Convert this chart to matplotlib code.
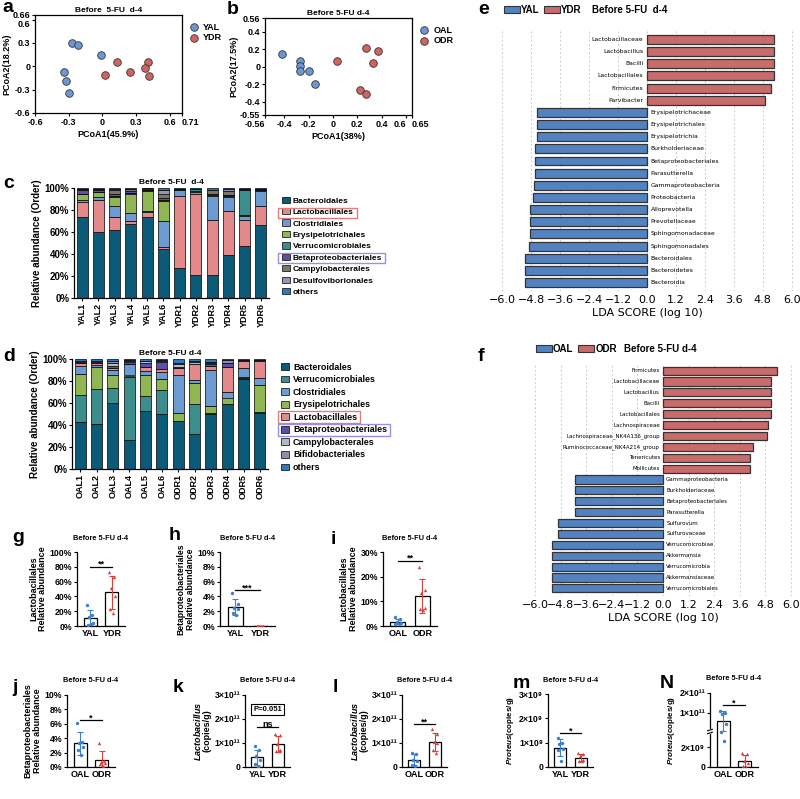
import numpy as np
import matplotlib
matplotlib.use('Agg')
import matplotlib.pyplot as plt
from matplotlib.patches import Patch, Rectangle

plt.rcParams['font.family'] = ['Liberation Sans', 'DejaVu Sans']
plt.rcParams['font.weight'] = 'bold'
plt.rcParams['axes.labelweight'] = 'bold'
plt.rcParams['axes.titleweight'] = 'bold'
plt.rcParams['mathtext.fontset'] = 'custom'
plt.rcParams['mathtext.it'] = 'Liberation Sans:italic:bold'
plt.rcParams['mathtext.rm'] = 'Liberation Sans:bold'
plt.rcParams['mathtext.bf'] = 'Liberation Sans:bold'
plt.rcParams['axes.linewidth'] = 0.9

W, H = 800, 799

# ---- a / b : PCoA ----
a_yal_x = [-0.27, -0.22, -0.01, -0.34, -0.32, -0.30]
a_yal_y = [0.30, 0.28, 0.14, -0.07, -0.19, -0.34]
a_ydr_x = [0.13, 0.02, 0.25, 0.41, 0.38, 0.42]
a_ydr_y = [0.06, -0.11, -0.07, 0.06, -0.02, -0.12]

b_oal_x = [-0.42, -0.27, -0.27, -0.27, -0.20, -0.15]
b_oal_y = [0.15, 0.07, 0.01, -0.05, -0.05, -0.20]
b_odr_x = [0.03, 0.27, 0.37, 0.33, 0.22, 0.27]
b_odr_y = [0.07, 0.22, 0.18, 0.05, -0.26, -0.31]

# ---- c : order composition, young mice ----
c_samples = ['YAL1', 'YAL2', 'YAL3', 'YAL4', 'YAL5', 'YAL6',
             'YDR1', 'YDR2', 'YDR3', 'YDR4', 'YDR5', 'YDR6']
c_bacteroidales = [74, 60, 62, 67, 74, 45, 27, 20.5, 21, 39, 47.5, 66]
c_lactobacillales = [13, 29, 12, 3, 4, 1.5, 66, 74, 50, 40, 23, 17.5]
c_clostridiales = [2, 3, 10, 7, 1.5, 23.5, 5, 2, 22, 13, 4.5, 14]
c_erysipelotrichales = [6, 4, 8, 18, 18, 18, 0.5, 0.5, 0.5, 0.5, 0.5, 0.5]
c_verrucomicrobiales = [0, 0, 0.5, 0.5, 0.5, 1, 0.5, 2, 1, 1, 23, 0.5]
c_betaproteobacteriales = [3.5, 2, 2, 2, 0.5, 2, 0.5, 0, 0.5, 0.5, 0.5, 0.5]
c_campylobacterales = [0.5, 1, 4, 1.5, 1, 4, 0, 0.5, 3, 3, 0.5, 0.5]
c_desulfo = [0.5, 0.5, 1, 0.5, 0.5, 3, 0, 0, 0.5, 2, 0, 0]
c_others = [0.5, 0.5, 0.5, 0.5, 0, 2, 0.5, 0.5, 1.5, 1, 0.5, 0.5]

# ---- d : order composition, old mice ----
d_samples = ['OAL1', 'OAL2', 'OAL3', 'OAL4', 'OAL5', 'OAL6',
             'ODR1', 'ODR2', 'ODR3', 'ODR4', 'ODR5', 'ODR6']
d_bacteroidales = [42.5, 41, 60, 26, 52.5, 50, 43.5, 32, 50, 59, 82, 51]
d_verrucomicrobiales = [25, 31.5, 14, 57.5, 13.5, 22, 0.5, 27, 0.5, 0.5, 0.5, 0.5]
d_erysipelotrichales = [19, 20.5, 11, 1.5, 19.5, 10, 7, 19, 6.5, 5.5, 1, 24.5]
d_clostridiales = [7, 1.5, 5, 10, 4, 6, 34.5, 3, 33, 5, 8, 7]
d_lactobacillales = [2.5, 1.5, 1.5, 0.5, 3, 3, 6.5, 14, 4, 23, 6.5, 15]
d_betaproteobacteriales = [1, 1.5, 2.5, 2, 4, 6, 0.5, 0.5, 1, 3, 0.5, 0.5]
d_campylobacterales = [1, 0.5, 2, 1, 1.5, 1, 3, 1.5, 1.5, 0.5, 0.5, 0.5]
d_bifido = [0.5, 0.5, 2, 0.5, 0.5, 1, 0.5, 1, 0.5, 3, 0.5, 0.5]
d_others = [1.5, 1.5, 2, 1, 1.5, 1, 4, 2, 3, 0.5, 0.5, 0.5]

# ---- e / f : LEfSe ----
e_taxa = ['Lactobacillaceae', 'Lactobacillus', 'Bacilli', 'Lactobacillales', 'Firmicutes',
          'Parvibacter', 'Erysipelotrichaceae', 'Erysipelotrichales', 'Erysipelotrichia',
          'Burkholderiaceae', 'Betaproteobacteriales', 'Parasutterella', 'Gammaproteobacteria',
          'Proteobacteria', 'Alloprevotella', 'Prevotellaceae', 'Sphingomonadaceae',
          'Sphingomonadales', 'Bacteroidales', 'Bacteroidetes', 'Bacteroidia']
e_lda = [5.27, 5.27, 5.27, 5.27, 5.14, 4.90, -4.54, -4.54, -4.54, -4.65, -4.65, -4.65,
         -4.68, -4.72, -4.85, -4.85, -4.87, -4.90, -5.07, -5.07, -5.07]
f_taxa = ['Firmicutes', 'Lactobacillaceae', 'Lactobacillus', 'Bacilli', 'Lactobacillales',
          'Lachnospiraceae', 'Lachnospiraceae_NK4A136_group', 'Ruminococcaceae_NK4A214_group',
          'Tenericutes', 'Mollicutes', 'Gammaproteobacteria', 'Burkholderiaceae',
          'Betaproteobacteriales', 'Parasutterella', 'Sulfurovum', 'Sulfurovaceae',
          'Verrucomicrobiae', 'Akkermansia', 'Verrucomicrobia', 'Akkermansiaceae',
          'Verrucomicrobiales']
f_lda = [5.34, 5.10, 5.10, 5.10, 5.10, 4.95, 4.90, 4.22, 4.11, 4.11, -4.16, -4.16, -4.16,
         -4.16, -4.93, -4.93, -5.24, -5.24, -5.24, -5.24, -5.24]

# ---- g-N : group comparisons ----
g_yal = [29, 15, 12, 4, 2, 3]
g_ydr = [73, 66, 52, 40, 23, 18]
h_yal = [4.4, 3.0, 2.5, 2.3, 1.7, 1.5]
h_ydr = [0.05, 0.02, 0.03, 0.01, 0.04, 0.02]
i_oal = [3.5, 3.0, 1.6, 1.2, 0.8, 0.7]
i_odr = [23.9, 14.6, 13.4, 7.3, 6.9, 6.5]
j_oal = [6.1, 3.5, 3.3, 2.8, 2.3, 1.6]
j_odr = [3.35, 0.9, 0.7, 0.5, 0.4, 0.2]
k_yal = [0.86, 0.69, 0.44, 0.28, 0.14, 0.02]      # x1e11 copies/g
k_ydr = [1.38, 1.33, 0.95, 0.72, 0.68, 0.66]
l_oal = [0.58, 0.55, 0.30, 0.25, 0.08, 0.04]      # x1e11 copies/g
l_odr = [1.58, 1.36, 1.05, 1.02, 0.72, 0.60]
m_yal = [1.20, 1.00, 0.95, 0.72, 0.68, 0.25]      # x1e9 copies/g
m_ydr = [0.57, 0.53, 0.44, 0.30, 0.26, 0.23]
n_oal = [110, 100, 97, 45, 5, 2.6]                # x1e9 copies/g
n_odr = [1.4, 1.33, 0.57, 0.4, 0.07, 0.05]

PC_BLUE = '#6b98d2'
PC_RED = '#d06461'
DOT_BLUE = '#3d7fcc'
DOT_RED = '#d8403b'
LDA_RED = '#c96b6b'
LDA_BLUE = '#5282c0'

COL_C = {'Bacteroidales': '#0b5a78', 'Lactobacillales': '#e4898a', 'Clostridiales': '#6b9bd0',
         'Erysipelotrichales': '#8fb652', 'Verrucomicrobiales': '#3c8e8c',
         'Betaproteobacteriales': '#5b4fa8', 'Campylobacterales': '#7d7568',
         'Desulfoviborionales': '#9595b4', 'others': '#2a7bc2'}
COL_D = dict(COL_C)
COL_D['Campylobacterales'] = '#b1b9c1'
COL_D['Bifidobacteriales'] = '#8f8fa8'

fig = plt.figure(figsize=(W / 100, H / 100), dpi=100)


def px_axes(x0, y0, x1, y1):
    return fig.add_axes([x0 / W, 1 - y1 / H, (x1 - x0) / W, (y1 - y0) / H])


def pcoa(ax, x1, y1, x2, y2, names, xt, xtl, yt, ytl, xlabel, ylabel, title):
    ax.scatter(x1, y1, s=30, c=PC_BLUE, edgecolors='#333333', linewidths=0.6, zorder=3, label=names[0])
    ax.scatter(x2, y2, s=30, c=PC_RED, edgecolors='#333333', linewidths=0.6, zorder=3, label=names[1])
    ax.set_xlim(xt[0], xt[-1])
    ax.set_ylim(yt[0], yt[-1])
    ax.set_xticks(xt)
    ax.set_xticklabels(xtl)
    ax.set_yticks(yt)
    ax.set_yticklabels(ytl)
    ax.tick_params(labelsize=6.5, width=0.8, length=2.5, pad=1)
    ax.set_xlabel(xlabel, fontsize=6.5, labelpad=2)
    ax.set_ylabel(ylabel, fontsize=6.5, labelpad=1)
    ax.set_title(title, fontsize=6, pad=2)
    ax.legend(loc='upper left', bbox_to_anchor=(1.0, 0.95), frameon=False, fontsize=6.5,
              handletextpad=0.05, borderaxespad=0.2, labelspacing=0.15, borderpad=0.1)
    # the two last x labels sit almost on top of each other in the original
    xl = ax.get_xticklabels()
    xl[-2].set_ha('right')
    xl[-1].set_ha('left')


ax_a = px_axes(35, 15, 182, 113)
pcoa(ax_a, a_yal_x, a_yal_y, a_ydr_x, a_ydr_y, ['YAL', 'YDR'],
     [-0.6, -0.3, 0, 0.3, 0.6, 0.71], ['-0.6', '-0.3', '0', '0.3', '0.6', '0.71'],
     [-0.6, -0.3, 0, 0.3, 0.6, 0.66], ['-0.6', '-0.3', '0', '0.3', '0.6', '0.66'],
     'PCoA1(45.9%)', 'PCoA2(18.2%)', 'Before  5-FU  d-4')
ax_a.get_yticklabels()[-2].set_va('top')
ax_a.get_xticklabels()[-2].set_ha('center')

ax_b = px_axes(265, 18, 412, 115)
pcoa(ax_b, b_oal_x, b_oal_y, b_odr_x, b_odr_y, ['OAL', 'ODR'],
     [-0.56, -0.4, -0.2, 0, 0.2, 0.4, 0.6, 0.65],
     ['-0.56', '-0.4', '-0.2', '0', '0.2', '0.4', '0.6', '0.65'],
     [-0.55, -0.4, -0.2, 0, 0.2, 0.4, 0.56],
     ['-0.55', '-0.4', '-0.2', '0', '0.2', '0.4', '0.56'],
     'PCoA1(38%)', 'PCoA2(17.5%)', 'Before 5-FU d-4')
ax_b.get_xticklabels()[0].set_ha('right')


def stacked(ax, samples, colors, stack_names, stack_vals, legend_names, title, fs_leg):
    x = np.arange(len(samples))
    bottom = np.zeros(len(samples))
    for name, vals in zip(stack_names, stack_vals):
        ax.bar(x, vals, bottom=bottom, width=0.68, color=colors[name], edgecolor='black',
               linewidth=0.5)
        bottom += np.asarray(vals, float)
    ax.set_xlim(-0.5, len(samples) - 0.5)
    ax.set_ylim(0, 100)
    ax.set_yticks([0, 20, 40, 60, 80, 100])
    ax.set_yticklabels(['0%', '20%', '40%', '60%', '80%', '100%'])
    ax.set_xticks(x)
    ax.set_xticklabels(samples, rotation=90)
    ax.tick_params(axis='y', labelsize=7, width=0.8, length=2.5, pad=1)
    ax.tick_params(axis='x', labelsize=6.5, width=0.8, length=2.5, pad=1)
    ax.spines[['top', 'right']].set_visible(False)
    ax.set_ylabel('Relative abundance (Order)', fontsize=7, labelpad=2)
    ax.set_title(title, fontsize=6, pad=3)
    handles = [Patch(facecolor=colors[n], edgecolor='black', linewidth=0.5) for n in legend_names]
    return ax.legend(handles, legend_names, loc='center left', bbox_to_anchor=(1.05, 0.47),
                     frameon=False, fontsize=fs_leg, handlelength=0.9, handleheight=0.8,
                     handletextpad=0.4, labelspacing=0.4, borderaxespad=0)


ax_c = px_axes(74, 188, 269, 298)
c_names = ['Bacteroidales', 'Lactobacillales', 'Clostridiales', 'Erysipelotrichales',
           'Verrucomicrobiales', 'Betaproteobacteriales', 'Campylobacterales',
           'Desulfoviborionales', 'others']
leg_c = stacked(ax_c, c_samples, COL_C, c_names,
                [c_bacteroidales, c_lactobacillales, c_clostridiales, c_erysipelotrichales,
                 c_verrucomicrobiales, c_betaproteobacteriales, c_campylobacterales,
                 c_desulfo, c_others],
                c_names, 'Before 5-FU  d-4', 6)

ax_d = px_axes(72, 359, 268, 469)
d_stack = ['Bacteroidales', 'Verrucomicrobiales', 'Erysipelotrichales', 'Clostridiales',
           'Lactobacillales', 'Betaproteobacteriales', 'Campylobacterales',
           'Bifidobacteriales', 'others']
d_legend = ['Bacteroidales', 'Verrucomicrobiales', 'Clostridiales', 'Erysipelotrichales',
            'Lactobacillales', 'Betaproteobacteriales', 'Campylobacterales',
            'Bifidobacteriales', 'others']
leg_d = stacked(ax_d, d_samples, COL_D, d_stack,
                [d_bacteroidales, d_verrucomicrobiales, d_erysipelotrichales, d_clostridiales,
                 d_lactobacillales, d_betaproteobacteriales, d_campylobacterales,
                 d_bifido, d_others],
                d_legend, 'Before 5-FU d-4', 6.4)


def lefse(ax, taxa, lda, fs):
    y = np.arange(len(taxa))
    colors = [LDA_RED if v > 0 else LDA_BLUE for v in lda]
    ax.barh(y, lda, height=0.74, color=colors, edgecolor='#333333', linewidth=0.9, zorder=2)
    for yi, name, v in zip(y, taxa, lda):
        if v > 0:
            ax.text(-0.15, yi, name, ha='right', va='center', fontsize=fs,
                    family='DejaVu Sans', weight='normal')
        else:
            ax.text(0.15, yi, name, ha='left', va='center', fontsize=fs,
                    family='DejaVu Sans', weight='normal')
    ax.set_ylim(len(taxa) - 0.3, -0.7)
    ax.set_xlim(-6.3, 6.3)
    ticks = np.round(np.arange(-6.0, 6.01, 1.2), 1)
    ax.set_xticks(ticks)
    ax.set_xticklabels([('%.1f' % (t + 0.0)).replace('-', '\u2212') for t in ticks],
                       family='DejaVu Sans', weight='normal', fontsize=8)
    ax.set_yticks([])
    ax.tick_params(axis='x', length=0, pad=3)
    for s in ax.spines.values():
        s.set_visible(False)
    ax.grid(axis='x', linestyle=(0, (2, 3)), color='#bbbbbb', linewidth=0.6, zorder=0)
    ax.set_xlabel('LDA SCORE (log 10)', family='DejaVu Sans', weight='normal', fontsize=8,
                  labelpad=2)


ax_e = px_axes(495, 31, 799, 291)
lefse(ax_e, e_taxa, e_lda, 4.4)
ax_f = px_axes(529, 363, 797, 596)
lefse(ax_f, f_taxa, f_lda, 4.0)


def lda_legend(y, x, names, title):
    handles = [Patch(facecolor=LDA_BLUE, edgecolor='#333333', linewidth=0.8),
               Patch(facecolor=LDA_RED, edgecolor='#333333', linewidth=0.8)]
    fig.legend(handles, names, loc='center left', bbox_to_anchor=(x / W, 1 - y / H), ncol=2,
               frameon=False, fontsize=7, handlelength=1.6, handleheight=0.6,
               handletextpad=0.15, columnspacing=0.5, borderaxespad=0, borderpad=0)
    return fig.text((x + 88) / W, 1 - y / H, title, fontsize=7, va='center', ha='left')


lda_legend(10, 504, ['YAL', 'YDR'], 'Before 5-FU  d-4')
lda_legend(349, 536, ['OAL', 'ODR'], 'Before 5-FU d-4')

JIT = [-0.13, 0.1, -0.04, 0.13, -0.1, 0.04]


def dotbar(ax, groups, data, ylim, yt, ytl, ylabel, sig, sig_y, scale=None, ylab_fs=6.5):
    markers = ['o', '^']
    colors = [DOT_BLUE, DOT_RED]
    if scale is not None:
        ax.set_yscale('function', functions=scale)
    for i, vals in enumerate(data):
        v = np.asarray(vals, float)
        m = v.mean()
        sd = v.std(ddof=1)
        ax.bar(i, m, width=0.6, color='white', edgecolor='black', linewidth=0.9, zorder=1)
        ax.errorbar(i, m, yerr=sd, color=colors[i], capsize=2.2, elinewidth=0.8,
                    capthick=0.8, zorder=2)
        ax.scatter(i + np.asarray(JIT[:len(v)]), v, marker=markers[i], s=6, color=colors[i],
                   linewidths=0, zorder=3)
    ax.set_xlim(-0.6, 1.6)
    ax.set_ylim(*ylim)
    ax.set_yticks(yt)
    ax.set_yticklabels(ytl)
    ax.set_xticks([0, 1])
    ax.set_xticklabels(groups)
    ax.tick_params(axis='y', labelsize=6.3, width=0.8, length=2.5, pad=1)
    ax.tick_params(axis='x', labelsize=6.5, length=0, pad=2)
    ax.spines[['top', 'right']].set_visible(False)
    ax.set_ylabel(ylabel, fontsize=ylab_fs, labelpad=2, linespacing=1.0)
    ax.set_title('Before 5-FU d-4', fontsize=5.3, pad=9)
    ax.plot([0, 1], [sig_y, sig_y], color='black', lw=0.9)
    ax.annotate(sig, (0.5, sig_y), xytext=(0, -1.5), textcoords='offset points',
                ha='center', va='bottom', fontsize=6.5)


lacto_lab = 'Lactobacillales\nRelative abundance'
beta_lab = 'Betaproteobacteriales\nRelative abundance'

ax_g = px_axes(77, 552, 125, 626)
dotbar(ax_g, ['YAL', 'YDR'], [g_yal, g_ydr], (0, 100), [0, 20, 40, 60, 80, 100],
       ['0%', '20%', '40%', '60%', '80%', '100%'], lacto_lab, '**', 80)
ax_h = px_axes(220, 552, 275, 626)
dotbar(ax_h, ['YAL', 'YDR'], [h_yal, h_ydr], (0, 10), [0, 2, 4, 6, 8, 10],
       ['0%', '2%', '4%', '6%', '8%', '10%'], beta_lab, '***', 4.8, ylab_fs=6.2)
ax_i = px_axes(383, 552, 437, 626)
dotbar(ax_i, ['OAL', 'ODR'], [i_oal, i_odr], (0, 30), [0, 10, 20, 30],
       ['0%', '10%', '20%', '30%'], lacto_lab, '**', 26.5)
ax_j = px_axes(67, 695, 115, 767)
dotbar(ax_j, ['OAL', 'ODR'], [j_oal, j_odr], (0, 10), [0, 2, 4, 6, 8, 10],
       ['0%', '2%', '4%', '6%', '8%', '10%'], beta_lab, '*', 6.5)

e11 = ['0', '1\u00d710\u00b9\u00b9', '2\u00d710\u00b9\u00b9', '3\u00d710\u00b9\u00b9']
lacto_cp = '$\\it{Lactobacillus}$\n(copies/g)'
ax_k = px_axes(245, 695, 290, 767)
dotbar(ax_k, ['YAL', 'YDR'], [k_yal, k_ydr], (0, 3), [0, 1, 2, 3], e11, lacto_cp, 'ns', 1.65)
ax_k.text(0.5, 2.4, 'P=0.051', ha='center', va='center', fontsize=5.5,
          bbox=dict(boxstyle='square,pad=0.25', facecolor='white', edgecolor='black', lw=0.8))
ax_l = px_axes(402, 695, 447, 767)
dotbar(ax_l, ['OAL', 'ODR'], [l_oal, l_odr], (0, 3), [0, 1, 2, 3], e11, lacto_cp, '**', 1.79)

prot = '$\\it{Proteus}$(copies/g)'
ax_m = px_axes(548, 694, 593, 767)
dotbar(ax_m, ['YAL', 'YDR'], [m_yal, m_ydr], (0, 3), [0, 1, 2, 3],
       ['0', '1\u00d710\u2079', '2\u00d710\u2079', '3\u00d710\u2079'], prot, '*', 1.39,
       ylab_fs=5.8)

BRK, TOP, LOW_FRAC = 3.5, 200.0, 0.47


def n_fwd(y):
    y = np.asarray(y, float)
    return np.where(y <= BRK, y / BRK * LOW_FRAC, LOW_FRAC + (y - BRK) / (TOP - BRK) * (1 - LOW_FRAC))


def n_inv(t):
    t = np.asarray(t, float)
    return np.where(t <= LOW_FRAC, t / LOW_FRAC * BRK, BRK + (t - LOW_FRAC) / (1 - LOW_FRAC) * (TOP - BRK))


ax_n = px_axes(710, 693, 758, 767)
dotbar(ax_n, ['OAL', 'ODR'], [n_oal, n_odr], (0, 200), [0, 2, 100, 200],
       ['0', '2\u00d710\u2079', '1\u00d710\u00b9\u00b9', '2\u00d710\u00b9\u00b9'], prot, '*', 140,
       scale=(n_fwd, n_inv), ylab_fs=5.8)
ax_n.plot([-0.05, 0.05], [LOW_FRAC - 0.02, LOW_FRAC + 0.0], transform=ax_n.transAxes,
          color='black', lw=0.8, clip_on=False, zorder=5)
ax_n.plot([-0.05, 0.05], [LOW_FRAC + 0.02, LOW_FRAC + 0.04], transform=ax_n.transAxes,
          color='black', lw=0.8, clip_on=False, zorder=5)
ax_n.plot([0, 0], [LOW_FRAC - 0.005, LOW_FRAC + 0.025], transform=ax_n.transAxes,
          color='white', lw=1.6, clip_on=False, zorder=4)

# panel letters
for letter, x, y in [('a', 8, 7), ('b', 233, 9), ('c', 9, 183), ('d', 9, 356),
                     ('e', 484, 9), ('f', 481, 356), ('g', 18, 538), ('h', 175, 536),
                     ('i', 333, 540), ('j', 15, 688), ('k', 178, 688), ('l', 335, 688),
                     ('m', 521, 684), ('N', 667, 684)]:
    fig.text(x / W, 1 - y / H, letter, fontsize=14, weight='bold', ha='center', va='center')

# highlight boxes around two legend entries
fig.canvas.draw()
renderer = fig.canvas.get_renderer()
inv_fig = fig.transFigure.inverted()
for leg in (leg_c, leg_d):
    for t in leg.get_texts():
        if t.get_text() in ('Lactobacillales', 'Betaproteobacteriales'):
            bb = t.get_window_extent(renderer)
            x0, y0 = inv_fig.transform((bb.x0 - 15, bb.y0 - 1.5))
            x1, y1 = inv_fig.transform((bb.x1 + 3, bb.y1 + 1.5))
            ec = '#e57b7b' if t.get_text() == 'Lactobacillales' else '#9a8fe6'
            fig.add_artist(Rectangle((x0, y0), x1 - x0, y1 - y0, transform=fig.transFigure,
                                     fill=False, edgecolor=ec, linewidth=1.0))

fig.savefig('out.png', dpi=100)
